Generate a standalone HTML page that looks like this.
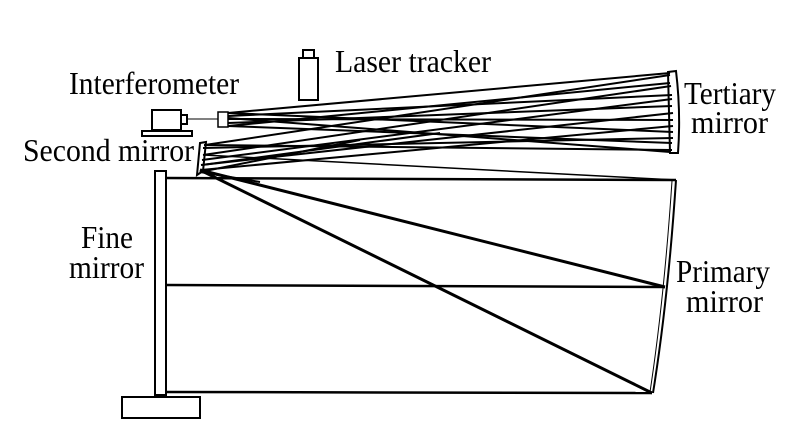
<!DOCTYPE html>
<html><head><style>
html,body{margin:0;padding:0;background:#fff;}
svg{display:block;}
text{font-family:"Liberation Serif",serif;font-size:32px;fill:#000;}
</style></head><body>
<svg width="800" height="426" viewBox="0 0 800 426" xmlns="http://www.w3.org/2000/svg">
<g fill="none" stroke="#000" stroke-width="2">
<rect x="299" y="58" width="19" height="42"/>
<rect x="303" y="50" width="11" height="8"/>
<rect x="152" y="110" width="29" height="20"/>
<rect x="142" y="131" width="50" height="5"/>
<rect x="181" y="115" width="6" height="9"/>
<line x1="187" y1="119" x2="218" y2="119" stroke-width="1"/>
<rect x="218" y="112" width="10" height="15" stroke-width="1.5"/>
<path d="M668 72 L676 71 Q681 112 678 153 L670 153 Z"/>
<g stroke-width="2">
<line x1="228" y1="113" x2="670" y2="73"/>
<line x1="228" y1="126" x2="670" y2="83"/>
<line x1="228" y1="116" x2="672" y2="95"/>
<line x1="228" y1="123" x2="672" y2="106"/>
<line x1="228" y1="119" x2="673" y2="120"/>
<line x1="228" y1="113" x2="673" y2="132"/>
<line x1="228" y1="126" x2="672" y2="143"/>
<line x1="228" y1="118" x2="670" y2="152"/>
<line x1="205" y1="145" x2="670" y2="75"/>
<line x1="203" y1="155" x2="671" y2="86"/>
<line x1="202" y1="160" x2="672" y2="99"/>
<line x1="201" y1="165" x2="673" y2="113"/>
<line x1="201" y1="170" x2="673" y2="126"/>
<line x1="203" y1="148" x2="673" y2="138"/>
<line x1="204" y1="145" x2="672" y2="150"/>
<line x1="200" y1="172" x2="360" y2="140"/>
<line x1="202" y1="165" x2="440" y2="133"/>
</g>
<path d="M200 143 L206 142 L203 171 L197 175 Z" stroke-width="2"/>
<line x1="204" y1="155" x2="676" y2="180" stroke-width="1.5"/>
<rect x="155" y="171" width="11" height="224"/>
<rect x="122" y="397" width="78" height="21"/>
<path d="M676 180 Q668 300 653 393" stroke-width="2"/>
<path d="M672 181 Q664 300 650 392" stroke-width="1"/>
<line x1="166" y1="178" x2="676" y2="180" stroke-width="2.5"/>
<line x1="166" y1="285" x2="665" y2="287" stroke-width="2.5"/>
<line x1="166" y1="392" x2="652" y2="393" stroke-width="2.5"/>
<line x1="200" y1="170" x2="665" y2="287" stroke-width="3"/>
<line x1="200" y1="170" x2="652" y2="393" stroke-width="3"/>
<line x1="200" y1="172" x2="260" y2="182" stroke-width="2"/>
</g>
<text x="335" y="72" textLength="156" lengthAdjust="spacingAndGlyphs">Laser tracker</text>
<text x="69" y="94" textLength="170" lengthAdjust="spacingAndGlyphs">Interferometer</text>
<text x="23" y="161" textLength="171" lengthAdjust="spacingAndGlyphs">Second mirror</text>
<text x="684" y="104" textLength="92" lengthAdjust="spacingAndGlyphs">Tertiary</text>
<text x="691" y="133" textLength="77" lengthAdjust="spacingAndGlyphs">mirror</text>
<text x="81" y="248" textLength="52" lengthAdjust="spacingAndGlyphs">Fine</text>
<text x="69" y="278" textLength="75" lengthAdjust="spacingAndGlyphs">mirror</text>
<text x="676" y="282" textLength="94" lengthAdjust="spacingAndGlyphs">Primary</text>
<text x="686" y="312" textLength="77" lengthAdjust="spacingAndGlyphs">mirror</text>
</svg>
</body></html>
